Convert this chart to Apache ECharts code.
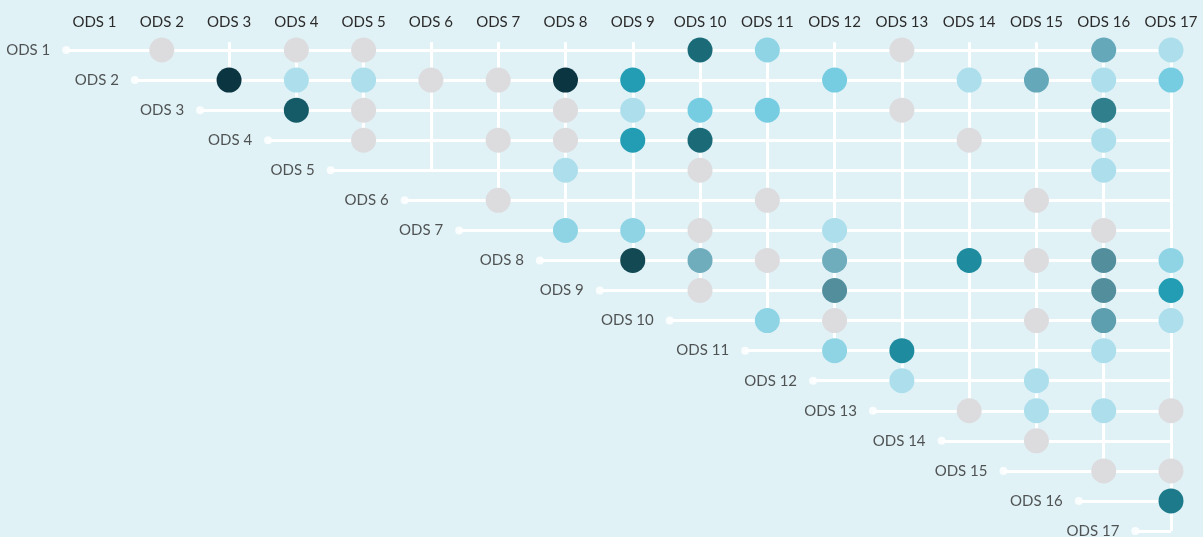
<!DOCTYPE html>
<html>
<head>
<meta charset="utf-8">
<script src="https://cdn.jsdelivr.net/npm/echarts@6/dist/echarts.min.js"></script>
<style>
    html, body { margin: 0; padding: 0; background: #e1f2f7; }
    #chart { width: 1203px; height: 537px; }
</style>
</head>
<body>
<div id="chart"></div>
<script>
// etiquetas de los ODS
const odsLabels = ['ODS 1', 'ODS 2', 'ODS 3', 'ODS 4', 'ODS 5', 'ODS 6', 'ODS 7', 'ODS 8', 'ODS 9',
    'ODS 10', 'ODS 11', 'ODS 12', 'ODS 13', 'ODS 14', 'ODS 15', 'ODS 16', 'ODS 17'];

// inicio de cada línea horizontal (en unidades de columna)
const rowStart = [0.58, 1.6, 2.57, 3.58, 4.51, 5.61, 6.42, 7.62, 8.51, 9.55, 10.67, 11.68, 12.57, 13.59, 14.51, 15.63, 16.47];

// celdas: [columna, fila, nivel]
const cells = [
    [2, 1, 0], [4, 1, 0], [5, 1, 0], [10, 1, 6], [11, 1, 2], [13, 1, 0], [16, 1, 10], [17, 1, 1],
    [3, 2, 8], [4, 2, 1], [5, 2, 1], [6, 2, 0], [7, 2, 0], [8, 2, 8], [9, 2, 4], [12, 2, 3], [14, 2, 1], [15, 2, 10], [16, 2, 1], [17, 2, 3],
    [4, 3, 7], [5, 3, 0], [8, 3, 0], [9, 3, 1], [10, 3, 3], [11, 3, 3], [13, 3, 0], [16, 3, 14],
    [5, 4, 0], [7, 4, 0], [8, 4, 0], [9, 4, 4], [10, 4, 6], [14, 4, 0], [16, 4, 1],
    [8, 5, 1], [10, 5, 0], [16, 5, 1],
    [7, 6, 0], [11, 6, 0], [15, 6, 0],
    [8, 7, 2], [9, 7, 2], [10, 7, 0], [12, 7, 1], [16, 7, 0],
    [9, 8, 9], [10, 8, 11], [11, 8, 0], [12, 8, 11], [14, 8, 5], [15, 8, 0], [16, 8, 13], [17, 8, 2],
    [10, 9, 0], [12, 9, 13], [16, 9, 13], [17, 9, 4],
    [11, 10, 2], [12, 10, 0], [15, 10, 0], [16, 10, 12], [17, 10, 1],
    [12, 11, 2], [13, 11, 5], [16, 11, 1],
    [13, 12, 1], [15, 12, 1],
    [14, 13, 0], [15, 13, 1], [16, 13, 1], [17, 13, 0],
    [15, 14, 0],
    [16, 15, 0], [17, 15, 0],
    [17, 16, 15]
];

// colores por nivel
const palette = ['#dcdcdf', '#acdeec', '#8ed4e5', '#76cde2', '#239db3', '#1f8b9e', '#1a6a78', '#155a67',
    '#0b3641', '#134953', '#64a8b9', '#6fadbd', '#5d9fae', '#538e9c', '#307f8d', '#1d7a8a'];

const n = odsLabels.length;
const topY = 0.74;

// líneas de la rejilla
const gridLines = [];
for (let i = 1; i <= n; i++) {
    gridLines.push({ coords: [[rowStart[i - 1], i], [n, i]] });
}
for (let j = 2; j <= n; j++) {
    const endRow = j === n ? n : j - 1;
    gridLines.push({ coords: [[j, topY], [j, endRow]] });
}

const chart = echarts.init(document.getElementById('chart'));

const option = {
    backgroundColor: '#e1f2f7',
    textStyle: { fontFamily: 'Lato' },
    grid: {
        left: 94.5,
        right: 32,
        top: 50,
        bottom: 6,
        containLabel: false,
        outerBoundsMode: 'none'
    },
    xAxis: {
        type: 'value',
        position: 'top',
        min: 1,
        max: n,
        interval: 1,
        axisLine: { show: false },
        axisTick: { show: false },
        splitLine: { show: false },
        axisLabel: {
            margin: 20,
            color: '#2b2b2b',
            fontSize: 15,
            fontFamily: 'Lato',
            formatter: v => odsLabels[v - 1] || ''
        }
    },
    yAxis: {
        type: 'value',
        inverse: true,
        min: 1,
        max: n,
        show: false
    },
    series: [
        {
            type: 'lines',
            coordinateSystem: 'cartesian2d',
            clip: false,
            silent: true,
            z: 1,
            lineStyle: { color: '#ffffff', width: 3, opacity: 1 },
            data: gridLines
        },
        {
            // punto de inicio de cada fila con su etiqueta
            type: 'scatter',
            clip: false,
            silent: true,
            z: 2,
            symbolSize: 8,
            itemStyle: { color: '#ffffff' },
            label: {
                show: true,
                position: 'left',
                distance: 12,
                color: '#2b2b2b',
                fontSize: 15,
                fontFamily: 'Lato',
                formatter: p => odsLabels[p.dataIndex]
            },
            data: rowStart.map((x, i) => [x, i + 1])
        },
        {
            type: 'scatter',
            clip: false,
            z: 3,
            symbolSize: 25,
            itemStyle: {
                color: p => palette[p.value[2]],
                opacity: 1
            },
            data: cells
        }
    ]
};

chart.setOption(option);
</script>
</body>
</html>
